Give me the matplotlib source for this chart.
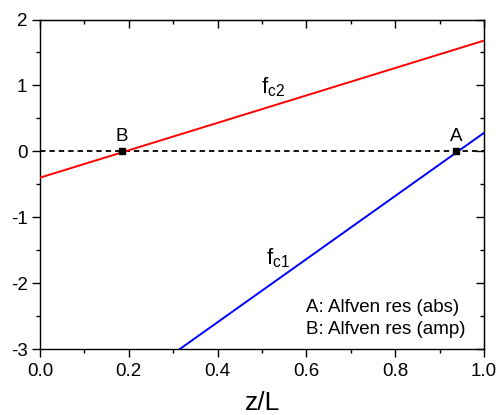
import matplotlib
matplotlib.use("Agg")
import matplotlib.pyplot as plt
from matplotlib.ticker import MultipleLocator

plt.rcParams['font.family'] = ['Liberation Sans', 'DejaVu Sans']
plt.rcParams['mathtext.fontset'] = 'custom'
plt.rcParams['mathtext.rm'] = 'Liberation Sans'
plt.rcParams['mathtext.it'] = 'Liberation Sans'

# Data
fc2_x = [0.0, 1.0]
fc2_y = [-0.40, 1.68]
fc1_x = [0.315, 1.0]
fc1_y = [-3.0, 0.28]
zero_x = [0.0, 1.0]
zero_y = [0.0, 0.0]
point_labels = ["B", "A"]
point_x = [0.185, 0.937]
point_y = [0.0, 0.0]
legend_lines = ["A: Alfven res (abs)", "B: Alfven res (amp)"]

fig = plt.figure(figsize=(5.0, 4.15), dpi=100)
ax = fig.add_axes([0.08, 0.159, 0.888, 0.794])

ax.plot(zero_x, zero_y, color='black', linestyle=(0, (3, 2.2)), linewidth=1.3, zorder=2)
ax.plot(fc2_x, fc2_y, color='#ff0000', linewidth=1.4, zorder=3)
ax.plot(fc1_x, fc1_y, color='#0000ff', linewidth=1.4, zorder=3)
ax.plot(point_x, point_y, linestyle='none', marker='s', markersize=4.8, color='black', zorder=4)
for lab, px, py in zip(point_labels, point_x, point_y):
    ax.text(px, py + 0.1, lab, ha='center', va='bottom', fontsize=13.5)

ax.text(0.525, 0.97, r'$\mathregular{f_{c2}}$', ha='center', va='center', fontsize=16)
ax.text(0.535, -1.62, r'$\mathregular{f_{c1}}$', ha='center', va='center', fontsize=16)

ax.text(0.6, -2.37, legend_lines[0], ha='left', va='center', fontsize=13.5)
ax.text(0.6, -2.71, legend_lines[1], ha='left', va='center', fontsize=13.5)

ax.set_xlim(0, 1)
ax.set_ylim(-3, 2)
ax.xaxis.set_minor_locator(MultipleLocator(0.1))
ax.yaxis.set_minor_locator(MultipleLocator(0.5))
ax.set_xticks([0.0, 0.2, 0.4, 0.6, 0.8, 1.0])
ax.set_xticklabels(["0.0", "0.2", "0.4", "0.6", "0.8", "1.0"])
ax.set_yticks([-3, -2, -1, 0, 1, 2])
ax.set_yticklabels(["-3", "-2", "-1", "0", "1", "2"])

ax.tick_params(axis='both', which='major', direction='out', length=6, width=1.0, labelsize=13.5)
ax.tick_params(axis='both', which='minor', direction='out', length=3, width=1.0)
ax.tick_params(axis='x', pad=4)
ax.tick_params(axis='y', pad=3)
for s in ax.spines.values():
    s.set_linewidth(1.0)

# inward ticks on top and right
axt = ax.secondary_xaxis('top')
axt.xaxis.set_major_locator(MultipleLocator(0.2))
axt.xaxis.set_minor_locator(MultipleLocator(0.1))
axt.tick_params(which='major', direction='in', length=6, width=1.0, labeltop=False)
axt.tick_params(which='minor', direction='in', length=3, width=1.0)
axr = ax.secondary_yaxis('right')
axr.yaxis.set_major_locator(MultipleLocator(1))
axr.yaxis.set_minor_locator(MultipleLocator(0.5))
axr.tick_params(which='major', direction='in', length=6, width=1.0, labelright=False)
axr.tick_params(which='minor', direction='in', length=3, width=1.0)

ax.set_xlabel("z/L", fontsize=19, labelpad=8)

fig.savefig("out.png", dpi=100)
